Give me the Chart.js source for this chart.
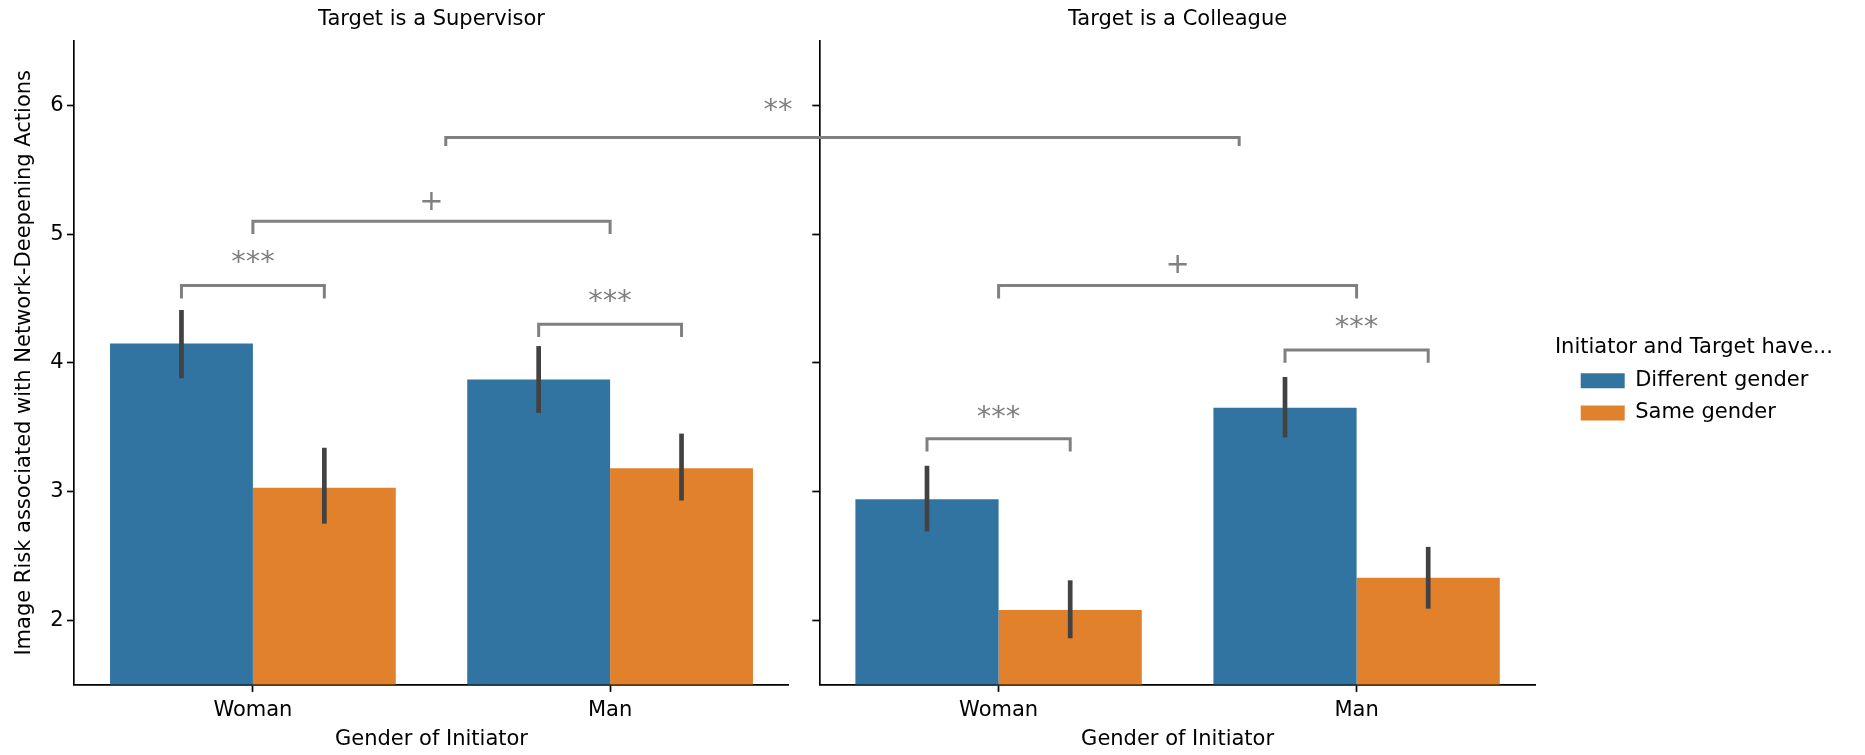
<!DOCTYPE html>
<html lang="en">
<head>
<meta charset="UTF-8" />
<title>Image risk by gender of initiator</title>
<script src="https://cdn.jsdelivr.net/npm/chart.js@4.4.0/dist/chart.umd.min.js"></script>
<style>
  body { margin: 0; background: #fff; width: 1865px; height: 755px; overflow: hidden; position: relative; }
  canvas { position: absolute; top: 0; }
  #supervisor { left: 0; }
  #colleague { left: 700px; }
</style>
</head>
<body>
<canvas id="supervisor" width="820" height="755"></canvas>
<canvas id="colleague" width="1165" height="755"></canvas>
<script>
const categories = ['Woman', 'Man']
const seriesNames = ['Different gender', 'Same gender']
const yTicks = [2, 3, 4, 5, 6]

// Target is a Supervisor: means and CI ends
const supDiff = [4.15, 3.87]
const supDiffLow = [3.88, 3.61]
const supDiffHigh = [4.41, 4.13]
const supSame = [3.03, 3.18]
const supSameLow = [2.75, 2.93]
const supSameHigh = [3.34, 3.45]

// Target is a Colleague
const colDiff = [2.94, 3.65]
const colDiffLow = [2.69, 3.42]
const colDiffHigh = [3.20, 3.89]
const colSame = [2.08, 2.33]
const colSameLow = [1.86, 2.09]
const colSameHigh = [2.31, 2.57]

// significance brackets, x in category units, y in data units
const supBrackets = [
  { from: -0.2, to: 0.2, top: 4.6, drop: 0.1, label: '***', labelX: 0, labelY: 4.82 },
  { from: 0.8, to: 1.2, top: 4.3, drop: 0.1, label: '***', labelX: 1, labelY: 4.52 },
  { from: 0, to: 1, top: 5.1, drop: 0.1, label: '+', labelX: 0.5, labelY: 5.26 },
]
const colBrackets = [
  { from: -0.2, to: 0.2, top: 3.41, drop: 0.1, label: '***', labelX: 0, labelY: 3.62 },
  { from: 0.8, to: 1.2, top: 4.1, drop: 0.1, label: '***', labelX: 1, labelY: 4.32 },
  { from: 0, to: 1, top: 4.6, drop: 0.1, label: '+', labelX: 0.5, labelY: 4.77 },
]
// the one that runs across both panels
const crossBracket = { from: 0.54, to: 0.672, top: 5.75, drop: 0.065, label: '**', labelX: 1.47, labelY: 6.0 }

const BLUE = '#3274a1'
const ORANGE = '#e1812c'
const FONT = 21
const AXIS_W = 1.67
const TICK_LEN = 7.3
const PAGE_H = 755
const PLOT_BOTTOM = 684.6
const SUP_LEFT = 74.3, SUP_RIGHT = 788.7
const COL_LEFT = 819.6, COL_RIGHT = 1535.6
const COL_CANVAS_X = 700, COL_CANVAS_W = 1165
const LEGEND_PAD = 11.2, LEGEND_BOX_W = 44

Chart.defaults.font.family = '"DejaVu Sans", sans-serif'
Chart.defaults.font.size = FONT
Chart.defaults.color = '#000'

const errorBars = {
  id: 'errorBars',
  afterDatasetsDraw(chart) {
    const { ctx } = chart
    const y = chart.scales.y
    ctx.save()
    ctx.strokeStyle = '#424242'
    ctx.lineWidth = 4.7
    chart.data.datasets.forEach((ds, d) => {
      chart.getDatasetMeta(d).data.forEach((bar, i) => {
        ctx.beginPath()
        ctx.moveTo(bar.x, y.getPixelForValue(ds.errLow[i]))
        ctx.lineTo(bar.x, y.getPixelForValue(ds.errHigh[i]))
        ctx.stroke()
      })
    })
    ctx.restore()
  },
}

const brackets = {
  id: 'brackets',
  afterDatasetsDraw(chart, args, opts) {
    const { ctx } = chart
    const x = chart.scales.x
    const y = chart.scales.y
    ctx.save()
    ctx.strokeStyle = 'gray'
    ctx.fillStyle = 'gray'
    ctx.lineWidth = 3
    ctx.font = '29px "DejaVu Sans"'
    ctx.textAlign = 'center'
    opts.items.forEach((b) => {
      const xa = b.from === null ? chart.chartArea.left - 35 : x.getPixelForValue(b.from)
      const xb = b.to === null ? chart.width : x.getPixelForValue(b.to)
      const yt = y.getPixelForValue(b.top)
      const yd = y.getPixelForValue(b.top - b.drop)
      ctx.beginPath()
      if (b.from === null) {
        ctx.moveTo(xa, yt)
      } else {
        ctx.moveTo(xa, yd)
        ctx.lineTo(xa, yt)
      }
      ctx.lineTo(xb, yt)
      if (b.to !== null) ctx.lineTo(xb, yd)
      ctx.stroke()
      if (b.label) {
        const m = ctx.measureText(b.label)
        const cy = y.getPixelForValue(b.labelY)
        const base = cy + (m.actualBoundingBoxAscent - m.actualBoundingBoxDescent) / 2
        ctx.fillText(b.label, x.getPixelForValue(b.labelX), base)
      }
    })
    ctx.restore()
  },
}

// pushes the legend away from the plot, like matplotlib's bbox offset,
// and lets its title spill past the (narrower) item column without clipping
const legendGap = {
  id: 'legendGap',
  afterLayout(chart, args, opts) {
    if (!opts.gap) return
    const lg = chart.legend
    lg.left += opts.gap
    lg.right += opts.gap
    if (!lg._noClip) {
      lg.draw = function () { if (this.options.display) this._draw() }
      lg._noClip = true
    }
  },
}

function axisLook() {
  return {
    z: 1,
    border: { display: true, color: '#000', width: AXIS_W },
    grid: {
      display: true,
      drawOnChartArea: false,
      drawTicks: true,
      tickLength: TICK_LEN,
      tickWidth: AXIS_W,
      tickColor: '#000',
      offset: false,
    },
  }
}

function makePanel(id, title, diff, diffLow, diffHigh, same, sameLow, sameHigh, items, yWidth, padRight, showYLabels, legend, gap) {
  return new Chart(document.getElementById(id), {
    type: 'bar',
    data: {
      labels: categories,
      datasets: [
        { label: seriesNames[0], data: diff, errLow: diffLow, errHigh: diffHigh, backgroundColor: BLUE, borderWidth: 0, categoryPercentage: 0.8, barPercentage: 1.0 },
        { label: seriesNames[1], data: same, errLow: sameLow, errHigh: sameHigh, backgroundColor: ORANGE, borderWidth: 0, categoryPercentage: 0.8, barPercentage: 1.0 },
      ],
    },
    options: {
      responsive: false,
      animation: false,
      events: [],
      layout: { padding: { left: 0, top: 0, bottom: 0, right: padRight } },
      scales: {
        x: {
          ...axisLook(),
          ticks: { padding: 6, maxRotation: 0, color: '#000' },
          title: { display: true, text: 'Gender of Initiator', padding: { top: 0, bottom: 2.4 } },
          afterFit: (s) => { s.height = PAGE_H - PLOT_BOTTOM },
        },
        y: {
          ...axisLook(),
          min: 1.5,
          max: 6.5,
          afterBuildTicks: (s) => { s.ticks = yTicks.map((v) => ({ value: v })) },
          ticks: { display: showYLabels, padding: 3.5, color: '#000' },
          title: {
            display: showYLabels,
            text: 'Image Risk associated with Network-Deepening Actions',
            padding: { top: 11.8, bottom: 0 },
          },
          afterFit: (s) => { s.width = yWidth },
        },
      },
      plugins: {
        title: {
          display: true,
          text: title,
          fullSize: false,
          color: '#000',
          font: { size: FONT, weight: 'normal', lineHeight: 1.2 },
          padding: { top: 7, bottom: 8.8 },
        },
        legend: legend,
        tooltip: { enabled: false },
        brackets: { items: items },
        legendGap: { gap: gap },
      },
    },
    plugins: [errorBars, brackets, legendGap],
  })
}

makePanel(
  'supervisor', 'Target is a Supervisor',
  supDiff, supDiffLow, supDiffHigh, supSame, supSameLow, supSameHigh,
  supBrackets.concat([{ ...crossBracket, to: null }]),
  SUP_LEFT, 820 - SUP_RIGHT, true, { display: false }, 0
)

const measure = document.createElement('canvas').getContext('2d')
measure.font = FONT + 'px "DejaVu Sans", sans-serif'
const textW = Math.max(...seriesNames.map((s) => measure.measureText(s).width))
const legendW = LEGEND_PAD + LEGEND_BOX_W + FONT / 2 + textW + 10
const colRight = COL_RIGHT - COL_CANVAS_X

makePanel(
  'colleague', 'Target is a Colleague',
  colDiff, colDiffLow, colDiffHigh, colSame, colSameLow, colSameHigh,
  colBrackets.concat([{ ...crossBracket, from: null, label: null }]),
  COL_LEFT - COL_CANVAS_X, COL_CANVAS_W - colRight - legendW, false,
  {
    display: true,
    position: 'right',
    align: 'start',
    fullSize: false,
    labels: { boxWidth: LEGEND_BOX_W, boxHeight: 15, padding: LEGEND_PAD, color: '#000', font: { size: FONT } },
    title: {
      display: true,
      text: 'Initiator and Target have...',
      color: '#000',
      font: { size: FONT, lineHeight: 1 },
      padding: { top: 296.5, bottom: 0.5 },
    },
  },
  1580.7 - COL_RIGHT - LEGEND_PAD
)
</script>
</body>
</html>
